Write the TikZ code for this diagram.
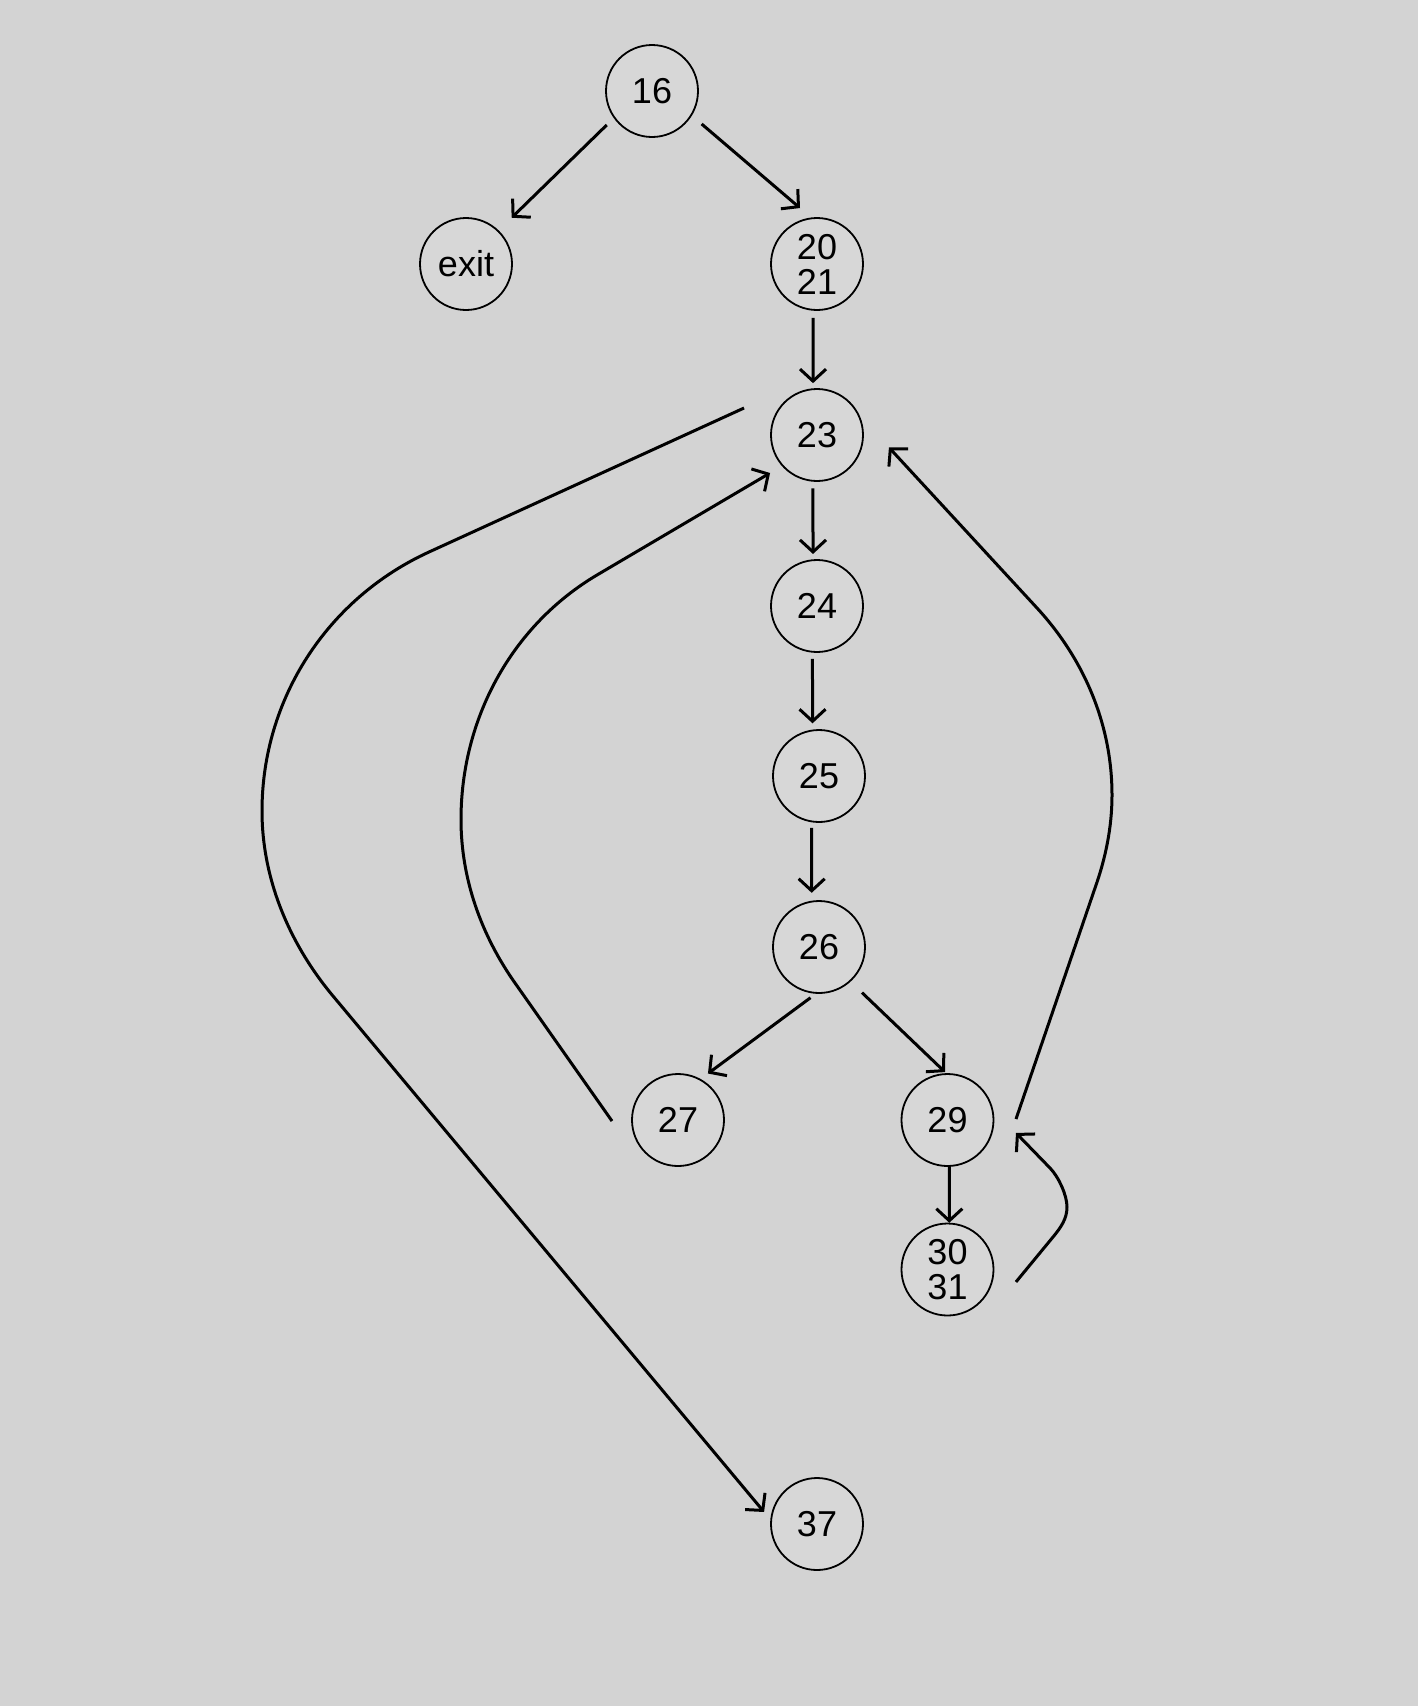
\documentclass[tikz,border=0pt]{standalone}
\usepackage{fontspec}
\setmainfont{Liberation Sans}
\usetikzlibrary{arrows.meta,calc}
\definecolor{bg}{RGB}{211,211,211}
\definecolor{nodefill}{RGB}{215,215,215}
\begin{document}
\begin{tikzpicture}[x=1pt,y=1pt,
  state/.style={circle, draw=black, line width=1.8pt, fill=nodefill,
    minimum size=92pt, inner sep=0pt, outer sep=0pt,
    font=\fontsize{36}{35}\selectfont, align=left},
  edge/.style={draw=black, line width=3pt,
    -{Straight Barb[length=12pt,width=26pt]}}]
\fill[bg] (0,0) rectangle (1418,-1706);
\useasboundingbox (0,0) rectangle (1418,-1706);

\node[state] (n16)   at (652,-91)    {16};
\node[state] (exit)  at (466,-264)   {exit};
\node[state] (n2021) at (817,-264)   {20\\21};
\node[state] (n23)   at (817,-435)   {23};
\node[state] (n24)   at (817,-606)   {24};
\node[state] (n25)   at (819,-776)   {25};
\node[state] (n26)   at (819,-947)   {26};
\node[state] (n27)   at (678,-1120)  {27};
\node[state] (n29)   at (947.5,-1120) {29};
\node[state] (n3031) at (947.5,-1269.5) {30\\31};
\node[state] (n37)   at (817,-1524)  {37};

% straight edges
\draw[edge] ($(n16)+(216.9:56.6)$) -- ($(exit)+(45.4:65)$);
\draw[edge] ($(n16)+(-33.6:59.6)$) -- ($(n2021)+(106.9:58.5)$);
\draw[edge] ($(n2021)+(-94.2:54)$) -- ($(n23)+(94.4:52)$);
\draw[edge] ($(n23)+(-94.3:53.6)$) -- ($(n24)+(94.4:52.2)$);
\draw[edge] ($(n24)+(-94.9:53)$) -- ($(n25)+(97:53.1)$);
\draw[edge] ($(n25)+(-98:52.3)$) -- ($(n26)+(97.7:54.7)$);
\draw[edge] ($(n26)+(-99.5:51.4)$) -- ($(n27)+(57.2:55.3)$);
\draw[edge] ($(n26)+(-46.7:62.7)$) -- ($(n29)+(93:48)$);
\draw[edge] ($(n29)+(-87.8:46.7)$) -- ($(n3031)+(87.8:46.8)$);

% curved edges
\draw[edge] ($(n23)+(159.7:77.8)$) -- (429,-552)
  .. controls (327.2,-598.6) and (262,-699) .. (262,-811)
  .. controls (262,-879) and (289.4,-943.8) .. (333,-996)
  -- ($(n37)+(167.2:54.3)$);
\draw[edge] ($(n27)+(180.9:66)$) -- (515,-983)
  .. controls (481,-934.7) and (461,-878.5) .. (461,-819.5)
  .. controls (461,-719.5) and (511,-626) .. (597,-575)
  -- ($(n23)+(219:60.4)$);
\draw[edge] ($(n29)+(0.8:68.5)$) -- (1095,-888)
  .. controls (1105.7,-857.9) and (1112,-827) .. (1112,-795)
  .. controls (1112,-725) and (1084.4,-659.5) .. (1037,-608)
  -- ($(n23)+(-9.8:73)$);
\draw[edge] ($(n3031)+(-10.3:69.6)$) -- (1053,-1237)
  .. controls (1060.6,-1227.7) and (1067,-1219) .. (1067,-1207)
  .. controls (1067,-1195) and (1058.4,-1176.6) .. (1050,-1168)
  -- ($(n29)+(-10.7:69.7)$);
\end{tikzpicture}
\end{document}
